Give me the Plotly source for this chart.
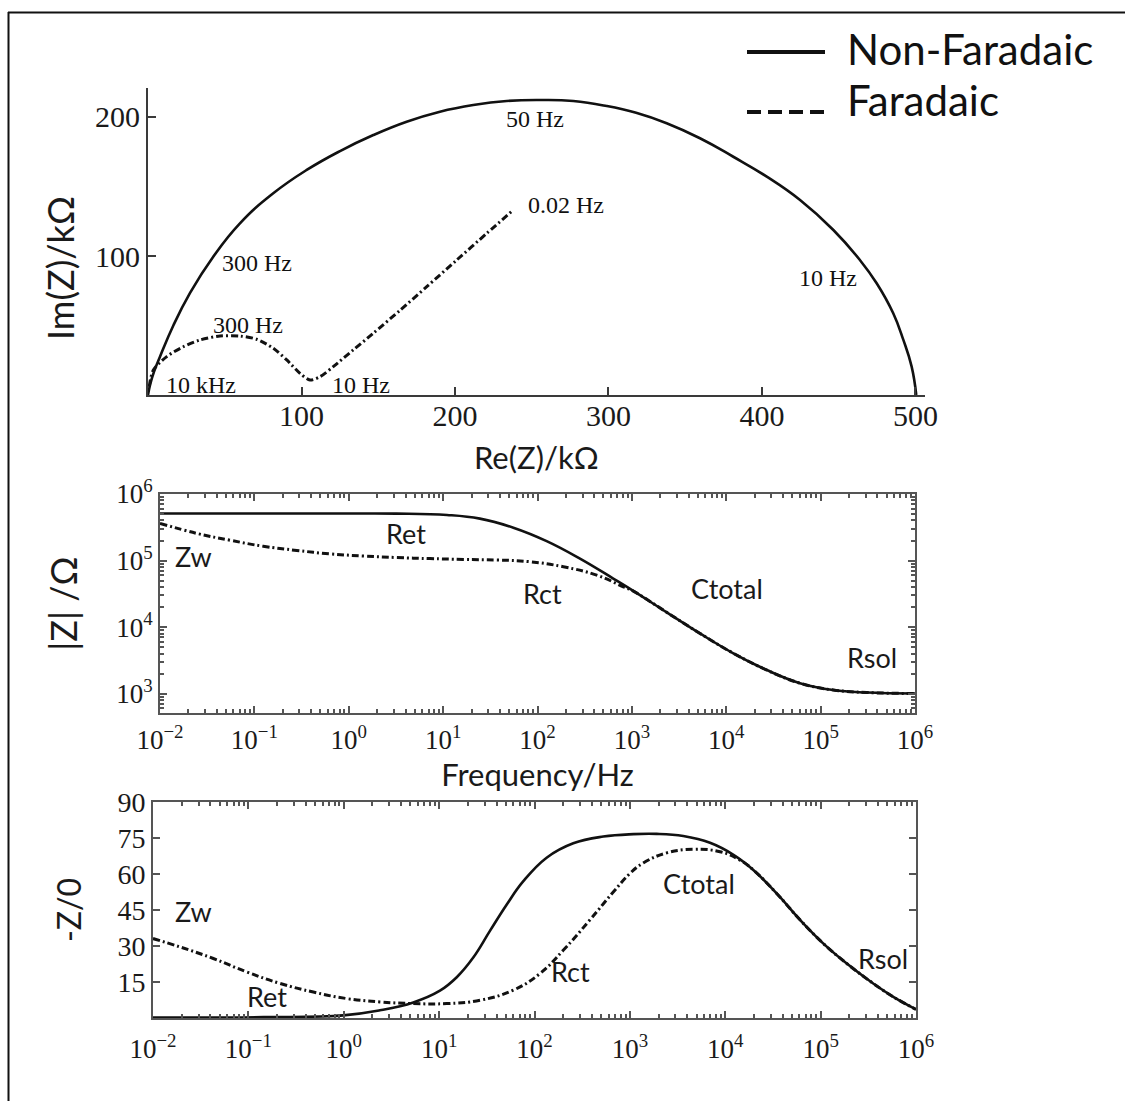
import plotly.graph_objects as go

# ---------------- data ----------------
# Nyquist plot (kOhm)
nyq_nf_re = [0, 1.5, 4.0, 7.8, 16.5, 27.4, 42.5, 59.9, 81.6, 103.4, 125.1, 146.8, 168.5, 190.2,
             211.9, 233.7, 255.4, 277.1, 298.8, 318.0, 337.9, 359.6, 381.3, 403.1, 424.8, 446.5,
             463.8, 474.7, 485.5, 492.1, 497.5, 500.5]
nyq_nf_im = [0, 8.0, 17.0, 27.5, 50.0, 73.5, 99.5, 123.5, 145.1, 161.9, 175.5, 187.0, 196.6,
             203.8, 208.6, 211.5, 212.2, 211.5, 207.9, 203.0, 195.5, 184.7, 171.4, 157.1, 140.3,
             118.7, 97.1, 80.4, 58.8, 39.6, 20.4, 0]
nyq_f_re = [0.8, 3.5, 12.2, 23.0, 33.9, 46.9, 59.9, 70.8, 81.6, 90.4, 99.0, 105.5, 112.1, 120.7,
            133.7, 146.8, 164.2, 181.6, 201.1, 220.7, 238.0]
nyq_f_im = [6.0, 18.0, 27.6, 34.7, 39.6, 42.4, 42.4, 40.1, 33.6, 25.2, 15.6, 10.8, 13.2, 20.4,
            32.4, 44.4, 61.0, 77.9, 97.1, 116.3, 133.1]

# Bode magnitude (Hz, Ohm)
mag_nf_freq = [0.01, 0.1, 1, 3.2, 11, 24.5, 55.5, 125, 282, 635, 1035, 2340, 5270, 11900, 26900,
               60400, 136000, 308000, 1000000]
mag_nf = [5.1e5, 5.1e5, 5.1e5, 5.08e5, 4.84e5, 4.27e5, 3.12e5, 1.96e5, 1.07e5, 5.37e4, 3.51e4,
          1.67e4, 8035, 4046, 2265, 1439, 1135, 1042, 1007]
mag_f_freq = [0.01, 0.0245, 0.0552, 0.124, 0.281, 0.632, 1.43, 3.22, 7.26, 16.4, 37, 83.4, 188, 424,
              811, 1035, 2340, 5270, 11900, 26900, 60400, 136000, 308000, 1000000]
mag_f = [3.62e5, 2.56e5, 2.02e5, 1.64e5, 1.42e5, 1.26e5, 1.17e5, 1.11e5, 1.07e5, 1.04e5, 1.02e5,
         9.6e4, 8.07e4, 6.05e4, 4.04e4, 3.47e4, 1.67e4, 8035, 4046, 2265, 1439, 1135, 1042, 1007]

# Phase (Hz, degrees)
ph_nf_freq = [0.01, 0.145, 0.99, 2.4, 5.36, 10.2, 15.3, 22.8, 34.1, 51.2, 76.4, 134, 255, 526, 1090,
              1910, 3630, 6920, 12200, 19700, 34600, 60800, 107000, 188000, 356000, 578000, 1000000]
ph_nf = [0.2, 0.35, 1.1, 3.2, 6.5, 11.4, 17.0, 25.2, 36.3, 47.3, 57.0, 66.8, 72.8, 75.6, 76.6,
         76.7, 75.8, 73.0, 68.0, 61.7, 51.9, 40.9, 31.0, 22.7, 14.4, 8.8, 3.6]
ph_f_freq = [0.01, 0.0192, 0.0429, 0.096, 0.215, 0.48, 1.07, 2.4, 5.36, 12, 26.9, 60, 114, 200, 380,
             670, 1000, 1380, 2430, 4630, 8810, 14300, 19700, 34600, 60800, 107000, 188000, 356000,
             578000, 1000000]
ph_f = [33.1, 29.6, 24.8, 19.2, 14.4, 10.8, 8.1, 6.7, 6.0, 6.0, 7.4, 11.6, 18.5, 28.2, 40.8, 52.5,
        60.2, 64.6, 68.8, 70.3, 69.3, 65.8, 61.7, 51.9, 40.9, 31.0, 22.7, 14.4, 8.8, 3.6]

# tick labels
nyq_x_ticks = [100, 200, 300, 400, 500]
nyq_y_ticks = [100, 200]
freq_exps = [-2, -1, 0, 1, 2, 3, 4, 5, 6]
mag_exps = [3, 4, 5, 6]
phase_ticks = [15, 30, 45, 60, 75, 90]

# annotation labels
nyq_labels = [("50 Hz", 252, 198.5), ("0.02 Hz", 272, 136.5), ("300 Hz", 71, 95),
              ("300 Hz", 65, 50.5), ("10 kHz", 34.5, 7.2), ("10 Hz", 139, 7.2),
              ("10 Hz", 443, 84)]
mag_labels = [("Ret", 0.607, 5.41), ("Zw", -1.65, 5.054), ("Rct", 2.05, 4.504),
              ("Ctotal", 4.011, 4.579), ("Rsol", 5.548, 3.537)]
ph_labels = [("Zw", -1.577, 44.2), ("Ret", -0.802, 8.8), ("Rct", 2.379, 19.2),
             ("Ctotal", 3.722, 56.1), ("Rsol", 5.657, 24.8)]

# ---------------- figure ----------------
W, H = 1125, 1101
SERIF = "Liberation Serif"
SANS = "Lato"
INK = "#111111"
AX = "#3a3a3a"


def fx(p):
    return p / W


def fy(p):
    return 1 - p / H


solid_nyq = dict(color=INK, width=2.6, shape="spline", smoothing=1.3)
dashdot_nyq = dict(color=INK, width=3, dash="7px,3px,2px,3px", shape="spline", smoothing=0.8)
solid = dict(color=INK, width=2.6, shape="spline", smoothing=1.2)
dashdot = dict(color=INK, width=3, dash="7px,3px,2px,3px", shape="spline", smoothing=1.2)

fig = go.Figure()
fig.add_trace(go.Scatter(x=nyq_nf_re, y=nyq_nf_im, mode="lines", line=solid_nyq,
                         name="Non-Faradaic", showlegend=False, xaxis="x", yaxis="y"))
fig.add_trace(go.Scatter(x=nyq_f_re, y=nyq_f_im, mode="lines", line=dashdot_nyq,
                         name="Faradaic", showlegend=False, xaxis="x", yaxis="y"))
fig.add_trace(go.Scatter(x=mag_nf_freq, y=mag_nf, mode="lines", line=solid,
                         name="Non-Faradaic", showlegend=False, xaxis="x2", yaxis="y2"))
fig.add_trace(go.Scatter(x=mag_f_freq, y=mag_f, mode="lines", line=dashdot,
                         name="Faradaic", showlegend=False, xaxis="x2", yaxis="y2"))
fig.add_trace(go.Scatter(x=ph_nf_freq, y=ph_nf, mode="lines", line=solid,
                         name="Non-Faradaic", showlegend=False, xaxis="x3", yaxis="y3"))
fig.add_trace(go.Scatter(x=ph_f_freq, y=ph_f, mode="lines", line=dashdot,
                         name="Faradaic", showlegend=False, xaxis="x3", yaxis="y3"))

freq_vals = [10.0 ** e for e in freq_exps]
freq_text = ["10<sup>%s</sup>" % str(e).replace("-", "\u2212") for e in freq_exps]
freq_minor = [m * 10.0 ** e for e in freq_exps[:-1] for m in range(2, 10)]
mag_vals = [10.0 ** e for e in mag_exps]
mag_text = ["10<sup>%d</sup>" % e for e in mag_exps]
mag_minor = [m * 10.0 ** e for e in [2, 3, 4, 5] for m in range(2, 10)]

title_font = dict(family=SANS, size=31, color="#1a1a1a")
tick_font_log = dict(family=SERIF, size=27, color="#1a1a1a")

common_box = dict(showline=True, linecolor="#555555", linewidth=2, mirror="ticks",
                  ticks="inside", ticklen=7, tickwidth=1.5, tickcolor="#555555",
                  showgrid=False, zeroline=False, automargin=False)

fig.update_layout(
    template="none",
    width=W, height=H, autosize=False,
    margin=dict(l=0, r=0, t=0, b=0, pad=0, autoexpand=False),
    paper_bgcolor="white", plot_bgcolor="white",
    showlegend=False,
    xaxis=dict(domain=[fx(148), fx(924.7)], range=[0, 506], anchor="y",
               showline=True, linecolor=AX, linewidth=2, ticks="inside", ticklen=8,
               tickwidth=2, tickcolor=AX, tickvals=nyq_x_ticks, ticklabelstandoff=-7,
               tickfont=dict(family=SERIF, size=30, color="#1a1a1a"),
               showgrid=False, zeroline=False, automargin=False,
               title=dict(text="Re(Z)/k\u03a9", font=title_font, standoff=16)),
    yaxis=dict(domain=[fy(395), fy(87.8)], range=[0, 221], anchor="x",
               showline=True, linecolor=AX, linewidth=2, ticks="inside", ticklen=8,
               tickwidth=2, tickcolor=AX, tickvals=nyq_y_ticks,
               tickfont=dict(family=SERIF, size=30, color="#1a1a1a"),
               showgrid=False, zeroline=False, automargin=False),
    xaxis2=dict(domain=[fx(160), fx(915)], type="log", range=[-2, 6], anchor="y2",
                tickvals=freq_vals, ticktext=freq_text, tickfont=tick_font_log,
                ticklabelstandoff=2,
                minor=dict(ticks="inside", ticklen=4, tickcolor="#555555", tickvals=freq_minor),
                title=dict(text="Frequency/Hz", font=title_font, standoff=2),
                **common_box),
    yaxis2=dict(domain=[fy(713), fy(494)], type="log", range=[2.71, 6], anchor="x2",
                tickvals=mag_vals, ticktext=mag_text, tickfont=tick_font_log,
                minor=dict(ticks="inside", ticklen=4, tickcolor="#555555", tickvals=mag_minor),
                title=dict(text="|Z| /\u03a9", font=dict(family=SANS, size=36, color="#1a1a1a"),
                           standoff=28),
                **common_box),
    xaxis3=dict(domain=[fx(153), fx(916)], type="log", range=[-2, 6], anchor="y3",
                tickvals=freq_vals, ticktext=freq_text, tickfont=tick_font_log,
                ticklabelstandoff=6,
                minor=dict(ticks="inside", ticklen=4, tickcolor="#555555", tickvals=freq_minor),
                **common_box),
    yaxis3=dict(domain=[fy(1018), fy(802)], range=[0, 90], anchor="x3",
                tickvals=phase_ticks, ticktext=[str(v) for v in phase_ticks],
                tickfont=dict(family=SERIF, size=28, color="#1a1a1a"),
                title=dict(text="-Z/0", font=dict(family=SANS, size=32, color="#1a1a1a"),
                           standoff=26),
                **common_box),
)

annotations = []
# y title of the Nyquist panel (sits below the centre of its axis in the reference)
annotations.append(dict(text="Im(Z)/k\u03a9", x=fx(60), y=fy(268), xref="paper", yref="paper",
                        textangle=-90, showarrow=False, xanchor="center", yanchor="middle",
                        font=dict(family=SANS, size=36, color="#1a1a1a")))
for text, x, y in nyq_labels:
    annotations.append(dict(text=text, x=x, y=y, xref="x", yref="y", showarrow=False,
                            font=dict(family=SERIF, size=24, color="#111111")))
for text, x, y in mag_labels:
    annotations.append(dict(text=text, x=x, y=y, xref="x2", yref="y2", showarrow=False,
                            font=dict(family=SANS, size=27, color="#1a1a1a")))
for text, x, y in ph_labels:
    annotations.append(dict(text=text, x=x, y=y, xref="x3", yref="y3", showarrow=False,
                            font=dict(family=SANS, size=27, color="#1a1a1a")))

# legend (drawn as text + line samples)
annotations.append(dict(text="Non-Faradaic", x=fx(845), y=fy(49), xref="paper", yref="paper",
                        xanchor="left", yanchor="middle", showarrow=False,
                        font=dict(family=SANS, size=42, color="#111111")))
annotations.append(dict(text="Faradaic", x=fx(845), y=fy(100), xref="paper", yref="paper",
                        xanchor="left", yanchor="middle", showarrow=False,
                        font=dict(family=SANS, size=42, color="#111111")))
fig.update_layout(annotations=annotations)

shapes = [
    # legend samples
    dict(type="line", xref="paper", yref="paper", x0=fx(747), x1=fx(825), y0=fy(52), y1=fy(52),
         line=dict(color="#111111", width=4)),
    dict(type="line", xref="paper", yref="paper", x0=fx(747), x1=fx(825), y0=fy(112), y1=fy(112),
         line=dict(color="#111111", width=4, dash="14px,7px")),
    # outer frame (top and left edges)
    dict(type="line", xref="paper", yref="paper", x0=fx(8), x1=1, y0=fy(12.5), y1=fy(12.5),
         line=dict(color="#111111", width=2)),
    dict(type="line", xref="paper", yref="paper", x0=fx(8.5), x1=fx(8.5), y0=0, y1=fy(12),
         line=dict(color="#111111", width=2)),
]
fig.update_layout(shapes=shapes)

fig.write_html("out.html", config=dict(displayModeBar=False),
               post_script="document.body.style.margin='0';document.body.style.overflow='hidden';")
